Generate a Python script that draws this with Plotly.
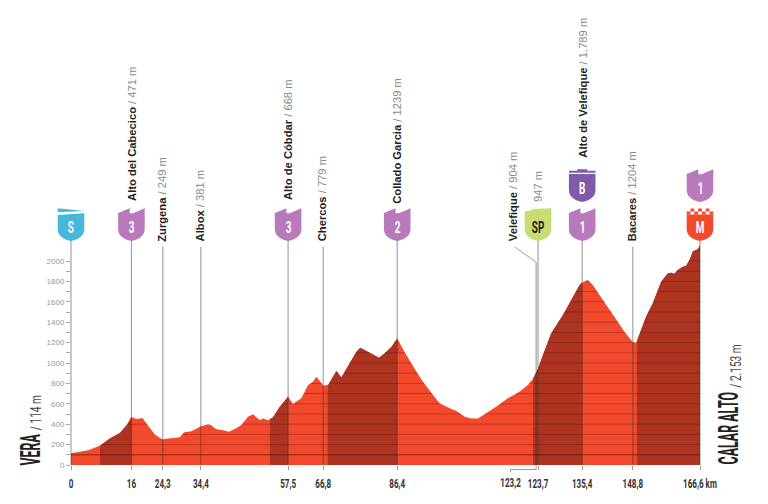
# -*- coding: utf-8 -*-
"""
Etapa Vera - Calar Alto, perfil
"""
import numpy as np
import plotly.graph_objects as go

# %% Data
km = [0, 2.4, 4.6, 7.7, 10.3, 13, 14.8, 16, 17.4, 18.9, 20.9, 22.2, 23.5, 24.3, 25.2, 27, 28.8, 30, 31.9,
      34.4, 36.3, 37, 38.5, 40.3, 41.8, 43.8, 45.1, 46.9, 48.2, 50, 50.9, 52.2, 53.5, 55.3, 57.5, 58.8,
      61, 62.8, 64.1, 65, 66.3, 66.8, 68.1, 70.3, 71.6, 73.8, 75.6, 76.6, 79.1, 81.6, 83.1, 84.9, 86.4,
      88.8, 91.5, 93.2, 95.9, 97.6, 100.3, 102, 104.3, 106, 107.8, 110, 112.6, 115.7, 118.8, 121, 122.3,
      123.2, 123.7, 125, 127.2, 130.3, 132.9, 134.7, 135.4, 136.9, 138.2, 140, 142.2, 144.4, 146.6,
      148.8, 149.7, 151, 152.3, 154.1, 156.3, 158.1, 159, 159.8, 160.7, 162, 162.9, 163.8, 164.7, 166, 166.6]
alt = [114, 131, 144, 190, 261, 317, 392, 471, 451, 461, 369, 300, 268, 249, 258, 261, 271, 320, 330,
       381, 399, 392, 350, 340, 327, 360, 392, 474, 497, 441, 457, 438, 467, 572, 668, 598,
       654, 784, 817, 866, 807, 779, 784, 922, 859, 997, 1111, 1150, 1101, 1052, 1095, 1160, 1239,
       1078, 915, 817, 686, 605, 556, 533, 474, 457, 457, 507, 572, 654, 719, 784, 840,
       904, 947, 1078, 1291, 1470, 1650, 1765, 1789, 1814, 1765, 1667, 1552, 1438, 1307,
       1204, 1199, 1323, 1454, 1585, 1797, 1879, 1886, 1876, 1912, 1944, 1951, 2010, 2092, 2114, 2153]

climbs = [(7.7, 16), (52.7, 57.5), (68, 86.4), (122.4, 135.4), (149.9, 166.6)]

x_ticks = [0, 16, 24.3, 34.4, 57.5, 66.8, 86.4, 123.7, 135.4, 148.8, 166.6]
x_labels = ["0", "16", "24,3", "34,4", "57,5", "66,8", "86,4", "123,7", "135,4", "148,8", "166,6 km"]

y_ticks = list(range(0, 2001, 200))
y_minor = list(range(100, 2000, 200))

# name, altitude text, km, text base (m), line top (m), text shift (px)
points = [
    ("Alto del Cabecico", "471 m", 16, 2598, 2196, 0),
    ("Zurgena", "249 m", 24.3, 2196, 2140, -1),
    ("Albox", "381 m", 34.4, 2196, 2140, -1),
    ("Alto de Cóbdar", "668 m", 57.5, 2598, 2196, 0),
    ("Chercos", "779 m", 66.8, 2196, 2140, -1),
    ("Collado Garcia", "1239 m", 86.4, 2568, 2196, -1),
    ("Alto de Velefique", "1.789 m", 135.4, 3020, 2196, 1),
    ("Bacares", "1204 m", 148.8, 2196, 2140, -1),
]

# %% Colors
RED = "#f3492c"
DARK = "#ad3421"
PURPLE = "#b87abb"
BLUE = "#46b8dc"
VIOLET = "#7f5aa6"
GREEN = "#c8dc74"
LINE = "rgba(50,50,50,0.45)"

# the page has an 8 px body margin, so the figure starts at 8,8
H = 457
PX_M = 0.102
X_END = 166.6
NARROW = "Roboto"   # squeezed in post_script, no condensed font here
TEXT = "Liberation Sans"

# %% Functions
def crossing_segments(level):
    xs, ys = [], []
    start = None
    for i in range(len(km) - 1):
        a0, a1 = alt[i], alt[i + 1]
        if a0 >= level and start is None:
            start = km[i]
        if (a0 - level) * (a1 - level) < 0:
            xc = km[i] + (level - a0) / (a1 - a0) * (km[i + 1] - km[i])
            if a1 > level:
                start = xc
            else:
                xs += [start, xc, None]
                ys += [level, level, None]
                start = None
    if start is not None:
        xs += [start, km[-1], None]
        ys += [level, level, None]
    return xs, ys


def pixel_path(x, base, path, color):
    fig.add_shape(type="path", path=path, xref="paper", yref="y", xsizemode="pixel", ysizemode="pixel",
                  xanchor=x / X_END, yanchor=base, fillcolor=color, line_width=0, layer="above")


def shield(x, base, color, top, text, text_color="white"):
    path = f"M-13.3,12 {top} L13.3,12 Q13.3,3 0,0 Q-13.3,3 -13.3,12 Z"
    pixel_path(x, base, path, color)
    fig.add_annotation(x=x, y=base, yshift=14, text=f"<b>{text}</b>", showarrow=False,
                       font=dict(family=NARROW, size=16, color=text_color))


def side_name(x, xshift, y, text, sub, sub_xshift, sub_y):
    fig.add_annotation(x=x, y=y, xshift=xshift, textangle=-90, showarrow=False, text=f"<b>{text}</b>",
                       font=dict(family=NARROW, size=27, color="#222"))
    fig.add_annotation(x=x, y=sub_y, xshift=sub_xshift, textangle=-90, showarrow=False, text=sub,
                       font=dict(family=NARROW, size=14, color="#444"))


NOTCH = "L-13.3,28 L-1.7,32.7 L-1.7,27.7 L1.7,27.7 L13.3,32.7"
FLAT = "L-13.3,28 L13.3,28"
SLANT = "L-13.3,29.5 L-6,31 L-6,32 L13.3,32.7"
S_TOP = "L-13.3,26 L13.3,27.7"

# %% Figure
fig = go.Figure()
fig.add_trace(go.Scatter(x=km, y=alt, fill="tozeroy", fillcolor=RED, mode="lines",
                         line=dict(width=0), hoverinfo="skip"))

for c0, c1 in climbs:
    inner = [(k, a) for k, a in zip(km, alt) if c0 < k < c1]
    cx = [c0] + [p[0] for p in inner] + [c1]
    cy = [np.interp(c0, km, alt)] + [p[1] for p in inner] + [np.interp(c1, km, alt)]
    fig.add_trace(go.Scatter(x=cx, y=cy, fill="tozeroy", fillcolor=DARK, mode="lines",
                             line=dict(width=0), hoverinfo="skip"))

for level in range(100, 2101, 100):
    lx, ly = crossing_segments(level)
    strength = 0.55 if level == 100 else 0.28
    fig.add_trace(go.Scatter(x=lx, y=ly, mode="lines", hoverinfo="skip",
                             line=dict(width=1, color=f"rgba(70,0,0,{strength})")))

# %% Vertical lines
for name, value, x, base, top, shift in points:
    fig.add_shape(type="line", x0=x, x1=x, y0=0, y1=top, line=dict(color=LINE, width=1.2))
    fig.add_annotation(x=x, y=base, xshift=shift, yshift=-2.5, yanchor="bottom", textangle=-90, showarrow=False,
                       text=f"<b>{name}</b> <span style='color:#8a8a8a'>/ {value}</span>",
                       font=dict(family=TEXT, size=11.2, color="#222"))
for edge in [0, X_END]:
    fig.add_shape(type="line", xref="paper", x0=edge / X_END, x1=edge / X_END, y0=0, y1=2196,
                  line=dict(color=LINE, width=1.2))
fig.add_shape(type="line", x0=123.7, x1=123.7, y0=0, y1=2196, line=dict(color=LINE, width=1.2))

# Velefique leader
fig.add_shape(type="line", x0=117.5, x1=123.2, y0=2137, y1=1990, line=dict(color=LINE, width=1))
fig.add_shape(type="line", x0=123.2, x1=123.2, y0=0, y1=1990, line=dict(color=LINE, width=1.2))
fig.add_shape(type="path", xref="x", yref="paper", line=dict(color="#999", width=1),
              path=f"M123.2,0 L123.2,{-4.5/H} L116.4,{-4.5/H} L116.4,{-7/H}")
fig.add_annotation(x=117.5, y=2196, xshift=-2, yshift=-2.5, yanchor="bottom", textangle=-90, showarrow=False,
                   text="<b>Velefique</b> <span style='color:#8a8a8a'>/ 904 m</span>",
                   font=dict(family=TEXT, size=11.2, color="#222"))
fig.add_annotation(x=123.7, y=2578, yshift=-2.5, yanchor="bottom", textangle=-90, showarrow=False, text="947 m",
                   font=dict(family=TEXT, size=11.2, color="#8a8a8a"))
fig.add_annotation(x=116.4, y=0, yshift=-17, yanchor="middle", showarrow=False, text="<b>123,2</b>",
                   font=dict(family=NARROW, size=13, color="#333"))

# %% Shields
shield(0, 2196, BLUE, S_TOP, "S")
pixel_path(0, 2196, "M-13.3,32.7 L13.3,30 L-13.3,28.7 Z", BLUE)
for x, cat in [(16, "3"), (57.5, "3"), (86.4, "2"), (135.4, "1")]:
    shield(x, 2196, PURPLE, NOTCH, cat)
shield(123.7, 2196, GREEN, SLANT, "SP", "#222")
shield(135.4, 2578, VIOLET, FLAT, "B")
pixel_path(135.4, 2578, "M-13.3,29.2 L13.3,29.2 L13.3,31.4 L5,31.4 L5,32.7 L-5,32.7 L-5,31.4 L-13.3,31.4 Z", VIOLET)
shield(X_END, 2578, PURPLE, NOTCH, "1")
shield(X_END, 2196, RED, "L-13.3,26.5 L13.3,26.5", "M")
# checks on top of the M shield
for row, y0 in enumerate([26.5, 29.5]):
    for col in range(7):
        if (row + col) % 2 == 0:
            sx = -13.3 + col * 3.8
            pixel_path(X_END, 2196, f"M{sx},{y0} L{sx + 3.8},{y0} L{sx + 3.8},{y0 + 3} L{sx},{y0 + 3} Z", RED)

# %% Start and finish names
side_name(0, -40, 147, "VERA", "/ 114 m", -34.5, 515)
side_name(X_END, 29.5, 358, "CALAR ALTO", "/ 2.153 m", 35.5, 964)

# %% Layout
fig.update_layout(
    width=760, height=496, showlegend=False, plot_bgcolor="white", paper_bgcolor="white",
    margin=dict(l=63, r=67.5, t=0, b=39),
    xaxis=dict(range=[0, X_END], showgrid=False, zeroline=False, tickvals=x_ticks, ticktext=x_labels,
               ticks="outside", ticklen=4, tickcolor="#999", ticklabelstandoff=2,
               tickfont=dict(family=NARROW, size=13, weight="bold", color="#333")),
    yaxis=dict(range=[0, H / PX_M], showgrid=False, zeroline=False, tickvals=y_ticks,
               ticks="outside", ticklen=4, tickcolor="#aaa",
               minor=dict(tickvals=y_minor, ticks="outside", ticklen=4, tickcolor="#aaa"),
               tickfont=dict(family=TEXT, size=8, color="#999")),
)

squeeze = """
document.querySelectorAll('svg text').forEach(function(t){
  if(t.style.fontFamily.indexOf('Roboto') >= 0){
    var size = parseFloat(t.style.fontSize);
    var k = size > 20 ? 0.46 : (size == 14 ? 0.72 : 0.62);
    t.setAttribute('lengthAdjust', 'spacingAndGlyphs');
    t.setAttribute('textLength', t.getComputedTextLength() * k);
  }
});
"""
fig.write_html("out.html", post_script=squeeze)
